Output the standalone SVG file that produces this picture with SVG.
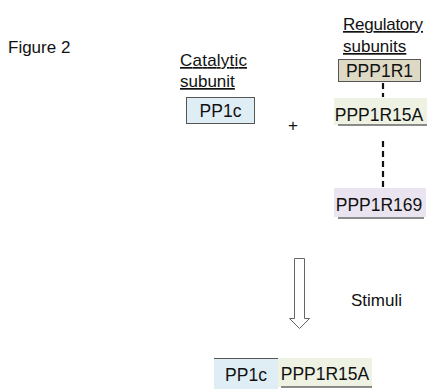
<svg xmlns="http://www.w3.org/2000/svg" width="427" height="389" viewBox="0 0 427 389">
<style>
text{font-family:"Liberation Sans",Arial,sans-serif;font-size:17px;fill:#111}
.u{text-decoration:underline}
.b{font-size:17.5px}
.box{stroke:#555;stroke-width:1}
.sh{stroke:#666;stroke-width:1.5}
.dash{stroke:#111;stroke-width:2.2;stroke-dasharray:6,4;fill:none}
</style>
<rect width="427" height="389" fill="#fff"/>
<text x="8" y="53">Figure 2</text>
<g id="catalytic-label"><text class="u" x="180" y="66" textLength="67">Catalytic</text><text class="u" x="180" y="87">subunit</text></g>
<g id="regulatory-label"><text class="u" x="343" y="30" textLength="80">Regulatory</text><text class="u" x="343" y="52">subunits</text></g>
<g id="pp1c"><rect class="box" x="186.5" y="97.5" width="68" height="26" fill="#dfeef5"/><text class="b" x="220.5" y="117" text-anchor="middle">PP1c</text></g>
<text x="293" y="131" text-anchor="middle" font-size="14">+</text>
<g id="ppp1r1"><rect class="box" x="338.5" y="59.5" width="82" height="22" fill="#ddd9c4"/><text class="b" x="379.5" y="77" text-anchor="middle">PPP1R1</text></g>
<g id="ppp1r15a"><rect x="334" y="98" width="93" height="27" fill="#eef2e2"/><line class="sh" x1="338" y1="125" x2="427" y2="125"/><text class="b" x="379" y="121" text-anchor="middle">PPP1R15A</text></g>
<g id="ppp1r169"><rect x="334" y="188" width="92" height="29" fill="#e9e4ef"/><line class="sh" x1="338" y1="218" x2="424" y2="218"/><text class="b" x="379" y="211" text-anchor="middle">PPP1R169</text></g>
<g id="connectors">
<line class="dash" x1="383" y1="83" x2="383" y2="97" stroke-dasharray="4,2"/>
<line class="dash" x1="383" y1="141" x2="383" y2="188"/>
<path d="M294.5 258.5 H304.5 V318.5 H309.5 L299.5 328.5 L289.5 318.5 H294.5 Z" fill="#fff" stroke="#666" stroke-width="1"/>
</g>
<text x="351" y="306">Stimuli</text>
<g id="complex-pp1c"><rect x="214" y="358.5" width="64" height="31" fill="#dfeef5"/><line x1="214" y1="358.5" x2="278" y2="358.5" stroke="#555"/><text class="b" x="246" y="381" text-anchor="middle">PP1c</text></g>
<g id="complex-ppp1r15a"><rect x="278" y="358" width="94" height="29" fill="#eef2e2"/><line class="sh" x1="281" y1="387" x2="372" y2="387"/><text class="b" x="325" y="380" text-anchor="middle">PPP1R15A</text></g>
</svg>
